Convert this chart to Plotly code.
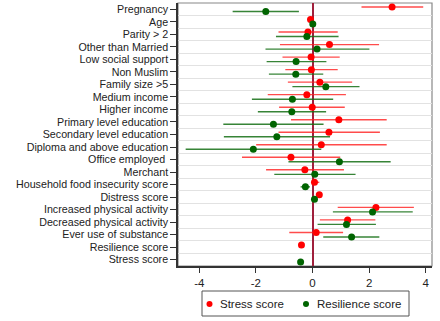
import plotly.graph_objects as go

categories = ["Pregnancy", "Age", "Parity > 2", "Other than Married", "Low social support",
              "Non Muslim", "Family size >5", "Medium income", "Higher income",
              "Primary level education", "Secondary level education",
              "Diploma and above education", "Office employed ", "Merchant",
              "Household food insecurity score", "Distress score",
              "Increased physical activity", "Decreased physical activity",
              "Ever use of substance", "Resilience score", "Stress score"]

stress_est = [2.81, -0.07, -0.16, 0.60, -0.05, -0.04, 0.26, -0.20, -0.01, 0.93, 0.58, 0.31,
              -0.76, -0.27, 0.07, 0.24, 2.24, 1.24, 0.13, -0.39, None]
stress_lo = [1.73, -0.10, -1.20, -1.15, -1.06, -0.96, -0.87, -1.58, -1.18, -0.76, -1.20, -1.99,
             -2.49, -1.64, -0.04, 0.20, 0.89, 0.26, -0.82, -0.42, None]
stress_hi = [3.91, -0.04, 0.89, 2.35, 0.96, 0.89, 1.40, 1.18, 1.14, 2.62, 2.38, 2.62,
             0.98, 1.11, 0.24, 0.28, 3.58, 2.22, 1.08, -0.36, None]

resil_est = [-1.65, 0.01, -0.20, 0.16, -0.58, -0.59, 0.47, -0.71, -0.73, -1.38, -1.26, -2.09,
             0.95, 0.08, -0.25, 0.07, 2.12, 1.20, 1.38, None, -0.42]
resil_lo = [-2.82, -0.01, -1.29, -1.66, -1.62, -1.54, -0.71, -2.14, -1.93, -3.15, -3.13, -4.48,
            -0.85, -1.35, -0.42, 0.04, 0.72, 0.18, 0.38, None, -0.45]
resil_hi = [-0.48, 0.03, 0.92, 2.01, 0.49, 0.38, 1.66, 0.73, 0.48, 0.39, 0.62, 0.31,
            2.76, 1.52, -0.09, 0.10, 3.54, 2.24, 2.36, None, -0.39]

x_ticks = [-4, -2, 0, 2, 4]
series_names = ["Stress score", "Resilience score"]
series_colors = ["#ff0000", "#006400"]
line_colors = ["rgba(255,30,30,0.8)", "rgba(20,110,20,0.85)"]

FONT = "Liberation Sans, Arial, sans-serif"
W, H = 440, 321
ML, MR, MT, MB = 178, 8, 3, 55
PW, PH = W - ML - MR, H - MT - MB
idx = list(range(len(categories)))
off = 0.18


def px_x(px):
    return (px - ML) / PW


def px_y(py):
    return (H - MB - py) / PH


def build(est, lo, hi, shift, color, lcolor, name):
    xs, ys, plus, minus = [], [], [], []
    for i, e, l, h in zip(idx, est, lo, hi):
        if e is None:
            continue
        xs.append(e)
        ys.append(i + shift)
        plus.append(h - e)
        minus.append(e - l)
    return go.Scatter(
        x=xs, y=ys, mode="markers", name=name, showlegend=False,
        marker=dict(color=color, size=7),
        error_x=dict(type="data", symmetric=False, array=plus, arrayminus=minus,
                     color=lcolor, thickness=1.4, width=0),
    )


fig = go.Figure()
fig.add_trace(build(stress_est, stress_lo, stress_hi, -off, series_colors[0], line_colors[0], series_names[0]))
fig.add_trace(build(resil_est, resil_lo, resil_hi, off, series_colors[1], line_colors[1], series_names[1]))

# manual legend (compact, like the original)
shapes = [dict(type="rect", xref="paper", yref="paper", x0=0, x1=1, y0=0, y1=1,
               line=dict(color="#888", width=1.2), layer="below"),
          dict(type="rect", xref="paper", yref="paper", x0=px_x(202), x1=px_x(409),
               y0=px_y(316), y1=px_y(291), line=dict(color="#555", width=1),
               fillcolor="white")]
annotations = []
leg_y = px_y(304)
for name, color, dot_px, text_px in zip(series_names, series_colors, [209.5, 306], [218, 315]):
    shapes.append(dict(type="circle", xref="paper", yref="paper", xsizemode="pixel",
                       ysizemode="pixel", xanchor=px_x(dot_px), yanchor=leg_y,
                       x0=-3, x1=3, y0=-3, y1=3, fillcolor=color, line=dict(width=0)))
    annotations.append(dict(xref="paper", yref="paper", x=px_x(text_px), y=leg_y,
                            text=name, showarrow=False, xanchor="left", yanchor="middle",
                            font=dict(size=11.5, family=FONT, color="#222")))

fig.update_layout(
    width=W, height=H,
    margin=dict(l=ML, r=MR, t=MT, b=MB, autoexpand=False),
    paper_bgcolor="white", plot_bgcolor="white",
    font=dict(family=FONT, size=12, color="#222"),
    showlegend=False,
    xaxis=dict(range=[-4.75, 4.22], tickvals=x_ticks, ticktext=[str(t) for t in x_ticks],
               showgrid=False, zeroline=True, zerolinecolor="#a0203c", zerolinewidth=1.5,
               showline=True, linecolor="#333", linewidth=1.5, ticks="outside", ticklen=5,
               tickcolor="#333", tickfont=dict(size=11.5, family=FONT, color="#222")),
    yaxis=dict(range=[20.5, -0.5], tickvals=idx, ticktext=categories, showgrid=False,
               zeroline=False, showline=True, linecolor="#333", linewidth=1.5,
               ticks="outside", ticklen=6, tickcolor="#333",
               tickfont=dict(size=10.7, family=FONT, color="#222"),
               minor=dict(tickvals=[i + 0.5 for i in idx[:-1]], showgrid=True,
                          gridcolor="#e2e2e2", gridwidth=1, ticks="")),
    shapes=shapes,
    annotations=annotations,
)

fig.write_html("out.html", config={"displayModeBar": False},
               post_script="document.body.style.margin='0';document.body.style.overflow='hidden';")
